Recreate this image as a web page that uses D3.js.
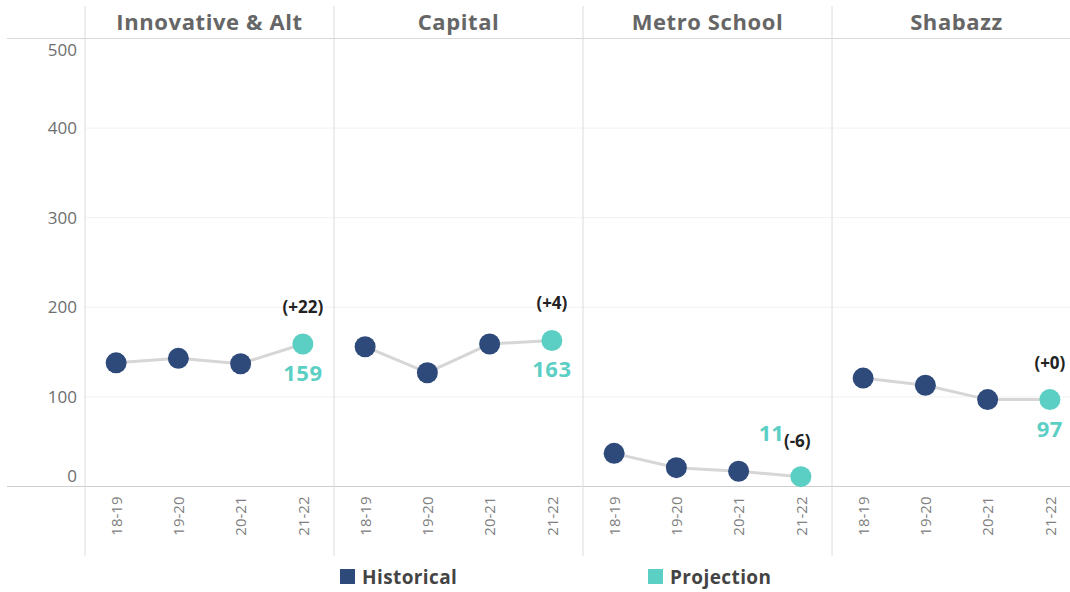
<!DOCTYPE html>
<html>
<head>
<meta charset="utf-8">
<title>Enrollment projection by school</title>
<script src="https://cdn.jsdelivr.net/npm/d3@7"></script>
<style>
  body { margin: 0; background: #fff; }
  svg text { font-family: "Open Sans", "DejaVu Sans", sans-serif; }
</style>
</head>
<body>
<svg id="svg"></svg>
<script>
// data
const schools = ["Innovative & Alt", "Capital", "Metro School", "Shabazz"];
const years = ["18-19", "19-20", "20-21", "21-22"];
const innovativeAlt = [138, 143, 137, 159];
const capital = [156, 127, 159, 163];
const metroSchool = [37, 21, 17, 11];
const shabazz = [121, 113, 97, 97];
const changeLabels = ["(+22)", "(+4)", "(-6)", "(+0)"];
const yTicks = [0, 100, 200, 300, 400, 500];
const legendItems = ["Historical", "Projection"];

const series = [innovativeAlt, capital, metroSchool, shabazz];

var width = 1070, height = 592,
    panelLeft = 85, panelW = 249,
    plotTop = 38.5, plotBottom = 486.5;

var navy = "#2e4a7b", teal = "#5ccfc5";

var svg = d3.select("#svg").attr("width", width).attr("height", height);

var x0 = d3.scaleBand().domain(schools)
    .range([panelLeft, panelLeft + panelW * schools.length]);
var x1 = d3.scalePoint().domain(years).range([0, x0.bandwidth()]).padding(0.5);
var y = d3.scaleLinear().domain([0, 500]).range([plotBottom, plotTop]);

// faint gridlines
svg.append("g").selectAll("line")
    .data(yTicks.filter(function(d) { return d > 0 && d < 500; }))
    .enter().append("line")
    .attr("x1", panelLeft).attr("x2", width)
    .attr("y1", function(d) { return y(d); })
    .attr("y2", function(d) { return y(d); })
    .attr("stroke", "#f1f1f1").attr("stroke-width", 1);

// header rule and baseline
svg.append("line").attr("x1", 7).attr("x2", width)
    .attr("y1", plotTop).attr("y2", plotTop)
    .attr("stroke", "#d9d9d9");
svg.append("line").attr("x1", 7).attr("x2", width)
    .attr("y1", y(0)).attr("y2", y(0))
    .attr("stroke", "#cfcfcf");

// panel dividers
svg.append("g").selectAll("line")
    .data(schools)
    .enter().append("line")
    .attr("x1", function(d) { return x0(d); })
    .attr("x2", function(d) { return x0(d); })
    .attr("y1", 6).attr("y2", 556)
    .attr("stroke", "#dcdcdc");

// y axis
var axisY = d3.axisLeft(y).tickValues(yTicks).tickSize(0).tickPadding(0);
var gy = svg.append("g")
    .attr("transform", "translate(" + 77 + ",0)")
    .call(axisY);
gy.select(".domain").remove();
gy.selectAll("text")
    .attr("font-size", 17)
    .attr("fill", "#6e6e6e")
    .attr("dy", function(d) {
        // end labels are pushed inside the plot like the original
        if (d == 500) return "1.0em";
        if (d == 0) return "-0.32em";
        return "0.32em";
    });

// titles
svg.append("g").selectAll("text")
    .data(schools)
    .enter().append("text")
    .attr("x", function(d) { return x0(d) + x0.bandwidth() / 2; })
    .attr("y", 30)
    .attr("text-anchor", "middle")
    .attr("font-size", 22)
    .attr("font-weight", 700)
    .attr("letter-spacing", 0.6)
    .attr("fill", "#666")
    .text(function(d) { return d; });

var line = d3.line()
    .x(function(d, i) { return x1(years[i]); })
    .y(function(d) { return y(d); });

schools.forEach(function(s, k) {
    var vals = series[k];
    var g = svg.append("g").attr("transform", "translate(" + x0(s) + ",0)");

    // x labels (rotated)
    var axisX = d3.axisBottom(x1).tickSize(0).tickPadding(0);
    var gx = g.append("g").attr("transform", "translate(0," + y(0) + ")").call(axisX);
    gx.select(".domain").remove();
    gx.selectAll("text")
        .attr("transform", "rotate(-90)")
        .attr("text-anchor", "end")
        .attr("x", -10).attr("y", 0).attr("dy", "0.35em")
        .attr("font-size", 15)
        .attr("fill", "#808080");

    g.append("path").datum(vals)
        .attr("d", line)
        .attr("fill", "none")
        .attr("stroke", "#d6d6d6")
        .attr("stroke-width", 3);

    g.selectAll("circle").data(vals)
        .enter().append("circle")
        .attr("cx", function(d, i) { return x1(years[i]); })
        .attr("cy", function(d) { return y(d); })
        .attr("r", 10.5)
        .attr("fill", function(d, i) { return i == vals.length - 1 ? teal : navy; });

    // labels on the projected point
    var last = vals[vals.length - 1];
    var px = x1(years[years.length - 1]), py = y(last);
    if (py > plotBottom - 40) {
        // too close to the floor: both labels go above
        g.append("text")
            .attr("x", px - 17).attr("y", py - 36)
            .attr("text-anchor", "end")
            .attr("font-size", 22).attr("font-weight", 700)
            .attr("fill", teal)
            .text(last);
        g.append("text")
            .attr("x", px - 17).attr("y", py - 30)
            .attr("text-anchor", "start")
            .attr("font-size", 17).attr("font-weight", 700)
            .attr("fill", "#222")
            .text(changeLabels[k]);
    } else {
        g.append("text")
            .attr("x", px).attr("y", py - 31)
            .attr("text-anchor", "middle")
            .attr("font-size", 17).attr("font-weight", 700)
            .attr("fill", "#222")
            .text(changeLabels[k]);
        g.append("text")
            .attr("x", px).attr("y", py + 37)
            .attr("text-anchor", "middle")
            .attr("font-size", 22).attr("font-weight", 700)
            .attr("letter-spacing", 0.5)
            .attr("fill", teal)
            .text(last);
    }
});

// legend
var legX = [340, 648];
var leg = svg.append("g").selectAll("g")
    .data(legendItems)
    .enter().append("g")
    .attr("transform", function(d, i) { return "translate(" + legX[i] + ",569)"; });
leg.append("rect")
    .attr("width", 15).attr("height", 15)
    .attr("fill", function(d, i) { return i == 0 ? navy : teal; });
leg.append("text")
    .attr("x", 22).attr("y", 15)
    .attr("font-size", 19).attr("font-weight", 700)
    .attr("letter-spacing", 0.4)
    .attr("fill", "#444")
    .text(function(d) { return d; });
</script>
</body>
</html>
